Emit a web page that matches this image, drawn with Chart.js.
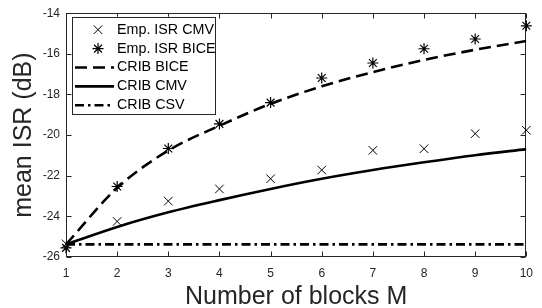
<!DOCTYPE html>
<html>
<head>
<meta charset="utf-8">
<script src="https://cdn.jsdelivr.net/npm/chart.js@4.4.1/dist/chart.umd.min.js"></script>
<style>
  html, body { margin: 0; padding: 0; background: #fff; }
  #wrap { width: 542px; height: 308px; }
</style>
</head>
<body>
<div id="wrap"><canvas id="isrChart" width="542" height="308"></canvas></div>
<script>
// values
var blocks = [1, 2, 3, 4, 5, 6, 7, 8, 9, 10];
var empIsrCmv = [-25.35, -24.25, -23.25, -22.65, -22.15, -21.72, -20.75, -20.67, -19.93, -19.76];
var empIsrBice = [-25.55, -22.53, -20.66, -19.45, -18.4, -17.19, -16.45, -15.75, -15.27, -14.62];
var cribBice = [-25.38, -22.6, -20.76, -19.54, -18.46, -17.6, -16.9, -16.3, -15.8, -15.37];
var cribCmv = [-25.38, -24.52, -23.8, -23.2, -22.65, -22.15, -21.72, -21.34, -20.99, -20.69];
var cribCsv = [-25.38, -25.38, -25.38, -25.38, -25.38, -25.38, -25.38, -25.38, -25.38, -25.38];
var xTicks = [1, 2, 3, 4, 5, 6, 7, 8, 9, 10];
var yTicks = [-26, -24, -22, -20, -18, -16, -14];

var axisColor = '#262626';
Chart.defaults.font.family = "'Liberation Sans', Arial, Helvetica, sans-serif";

function pts(arr) {
  return blocks.map(function (b, i) { return { x: b, y: arr[i] }; });
}

// matlab style box with inward ticks on all four sides
var boxAxes = {
  id: 'boxAxes',
  beforeDatasetsDraw: function (chart) {
    var ctx = chart.ctx, a = chart.chartArea;
    var xs = chart.scales.x, ys = chart.scales.y;
    var L = Math.round(a.left) + 0.5, R = Math.round(a.right) - 0.5;
    var T = Math.round(a.top) + 0.5, B = Math.round(a.bottom) - 0.5;
    ctx.save();
    ctx.strokeStyle = axisColor;
    ctx.lineWidth = 1;
    ctx.strokeRect(L, T, R - L, B - T);
    ctx.beginPath();
    xTicks.forEach(function (v) {
      var px = Math.round(xs.getPixelForValue(v)) + 0.5;
      ctx.moveTo(px, B); ctx.lineTo(px, B - 5);
      ctx.moveTo(px, T); ctx.lineTo(px, T + 5);
    });
    yTicks.forEach(function (v) {
      var py = Math.round(ys.getPixelForValue(v)) + 0.5;
      ctx.moveTo(L, py); ctx.lineTo(L + 5, py);
      ctx.moveTo(R, py); ctx.lineTo(R - 5, py);
    });
    ctx.stroke();
    ctx.restore();
  }
};

// legend box drawn like the matlab one
var boxLegend = {
  id: 'boxLegend',
  afterDraw: function (chart) {
    var ctx = chart.ctx, a = chart.chartArea;
    var bx = a.left + 6, by = a.top + 3.5, bw = 143, bh = 97;
    ctx.save();
    ctx.fillStyle = '#fff';
    ctx.fillRect(bx, by, bw, bh);
    ctx.strokeStyle = axisColor;
    ctx.lineWidth = 1;
    ctx.strokeRect(Math.round(bx) + 0.5, Math.round(by) + 0.5, bw, bh);
    ctx.font = "14.3px 'Liberation Sans', Arial, sans-serif";
    ctx.textBaseline = 'middle';
    ctx.textAlign = 'left';
    chart.data.datasets.forEach(function (ds, i) {
      var cy = by + 13 + i * 18.9;
      if (ds.showLine === false) {
        ctx.strokeStyle = ds.pointBorderColor;
        ctx.fillStyle = ds.pointBorderColor;
        ctx.lineWidth = ds.pointBorderWidth;
        Chart.helpers.drawPoint(ctx, { pointStyle: ds.pointStyle, radius: ds.pointRadius, rotation: 0, borderWidth: ds.pointBorderWidth }, bx + 26, cy);
      } else {
        ctx.strokeStyle = ds.borderColor;
        ctx.lineWidth = ds.borderWidth;
        ctx.setLineDash(ds.borderDash || []);
        ctx.beginPath();
        ctx.moveTo(bx + 3, cy);
        ctx.lineTo(bx + 42, cy);
        ctx.stroke();
        ctx.setLineDash([]);
      }
      ctx.fillStyle = '#000';
      ctx.fillText(ds.label, bx + 45, cy);
    });
    ctx.restore();
  }
};

var ctx = document.getElementById('isrChart').getContext('2d');
new Chart(ctx, {
  type: 'line',
  data: {
    datasets: [
      {
        label: 'Emp. ISR CMV',
        data: pts(empIsrCmv),
        showLine: false,
        pointStyle: 'crossRot',
        pointRadius: 6,
        pointBorderWidth: 1,
        pointBorderColor: '#000',
        pointBackgroundColor: '#000',
        clip: false
      },
      {
        label: 'Emp. ISR BICE',
        data: pts(empIsrBice),
        showLine: false,
        pointStyle: 'star',
        pointRadius: 5.5,
        pointBorderWidth: 1.2,
        pointBorderColor: '#000',
        pointBackgroundColor: '#000',
        clip: false
      },
      {
        label: 'CRIB BICE',
        data: pts(cribBice),
        borderColor: '#000',
        borderWidth: 2.6,
        borderDash: [12, 6],
        pointRadius: 0,
        cubicInterpolationMode: 'monotone',
        fill: false
      },
      {
        label: 'CRIB CMV',
        data: pts(cribCmv),
        borderColor: '#000',
        borderWidth: 2.6,
        pointRadius: 0,
        cubicInterpolationMode: 'monotone',
        fill: false
      },
      {
        label: 'CRIB CSV',
        data: pts(cribCsv),
        borderColor: '#000',
        borderWidth: 2.6,
        borderDash: [9, 4, 2.5, 4],
        pointRadius: 0,
        fill: false
      }
    ]
  },
  options: {
    responsive: false,
    animation: false,
    devicePixelRatio: 1,
    layout: { padding: { top: 12, right: 6, left: 0, bottom: 0 } },
    plugins: {
      legend: { display: false },
      tooltip: { enabled: false }
    },
    scales: {
      x: {
        type: 'linear',
        min: 1,
        max: 10,
        afterBuildTicks: function (s) { s.ticks = xTicks.map(function (v) { return { value: v }; }); },
        afterFit: function (s) { s.height = 51; },
        grid: { display: false, drawTicks: false },
        border: { display: false },
        ticks: {
          color: axisColor,
          font: { size: 12 },
          padding: 9,
          maxRotation: 0,
          callback: function (v) { return String(v); }
        },
        title: {
          display: true,
          text: 'Number of blocks M',
          color: axisColor,
          font: { size: 25, lineHeight: 0.9 },
          padding: { top: 0, bottom: 0 }
        }
      },
      y: {
        type: 'linear',
        min: -26,
        max: -14,
        afterBuildTicks: function (s) { s.ticks = yTicks.map(function (v) { return { value: v }; }); },
        afterFit: function (s) { s.width = 66; },
        grid: { display: false, drawTicks: false },
        border: { display: false },
        ticks: {
          color: axisColor,
          font: { size: 12 },
          padding: 6,
          callback: function (v) { return String(v); }
        },
        title: {
          display: true,
          text: 'mean ISR (dB)',
          color: axisColor,
          font: { size: 25, lineHeight: 1.2 },
          padding: { top: 9, bottom: 0 }
        }
      }
    }
  },
  plugins: [boxAxes, boxLegend]
});
</script>
</body>
</html>
